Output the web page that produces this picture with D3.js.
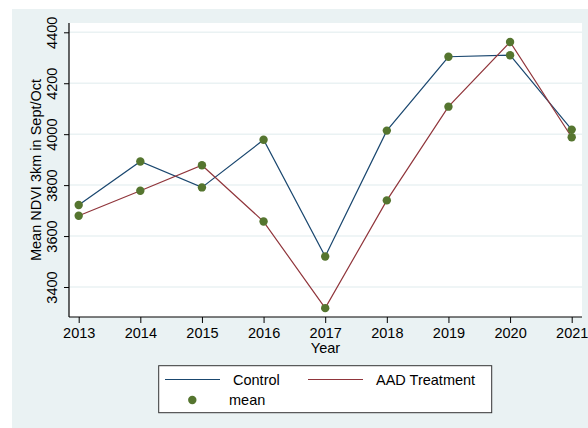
<!DOCTYPE html>
<html>
<head>
<meta charset="utf-8">
<script src="https://cdn.jsdelivr.net/npm/d3@7"></script>
<style>
html,body{margin:0;padding:0;background:#fff;}
svg{display:block;font-family:"Liberation Sans",Arial,Helvetica,sans-serif;}
</style>
</head>
<body>
<svg id="chart" width="588" height="428"></svg>
<script>
const years = [2013, 2014, 2015, 2016, 2017, 2018, 2019, 2020, 2021];
const controlValues = [3722, 3893, 3791, 3978, 3520, 4014, 4304, 4310, 4018];
const treatmentValues = [3680, 3778, 3878, 3657, 3317, 3740, 4108, 4362, 3988];
const yTicks = [3400, 3600, 3800, 4000, 4200, 4400];
const seriesNames = ["Control", "AAD Treatment", "mean"];

const svg = d3.select("#chart");
const W = 588, H = 428;
const FS = 14.5;
const plot = {left: 69, right: 582, top: 23, bottom: 317};

const x = d3.scaleLinear().domain([2013, 2021]).range([78.7, 571.7]);
const y = d3.scaleLinear().domain([3400, 4400]).range([287, 32.3]);

// outer graph region
svg.append("rect").attr("x", 12).attr("y", 9).attr("width", W - 12).attr("height", H - 9).attr("fill", "#eaf2f3");
// plot region
svg.append("rect").attr("x", plot.left).attr("y", plot.top)
  .attr("width", plot.right - plot.left).attr("height", plot.bottom - plot.top).attr("fill", "#fff");

// gridlines
svg.append("g").selectAll("line").data(yTicks).join("line")
  .attr("x1", plot.left).attr("x2", plot.right)
  .attr("y1", d => y(d)).attr("y2", d => y(d))
  .attr("stroke", "#eaf2f3").attr("stroke-width", 1.5);

// y axis
const yAxis = svg.append("g").attr("transform", `translate(${plot.left},0)`)
  .call(d3.axisLeft(y).tickValues(yTicks).tickFormat(d3.format("d")).tickSize(5).tickSizeOuter(0));
yAxis.select(".domain").remove();
svg.append("line").attr("x1", plot.left).attr("x2", plot.left).attr("y1", plot.top).attr("y2", plot.bottom)
  .attr("stroke", "#000").attr("stroke-width", 1.2);
yAxis.selectAll(".tick line").attr("stroke", "#000").attr("stroke-width", 1);
yAxis.selectAll(".tick text")
  .attr("font-size", FS).attr("fill", "#000")
  .attr("x", 0).attr("dy", 0)
  .attr("text-anchor", "middle")
  .attr("transform", "translate(-12,0) rotate(-90)")
  .attr("y", 0);

// x axis
const xAxis = svg.append("g").attr("transform", `translate(0,${plot.bottom})`)
  .call(d3.axisBottom(x).tickValues(years).tickFormat(d3.format("d")).tickSize(6).tickSizeOuter(0));
xAxis.select(".domain").remove();
svg.append("line").attr("x1", plot.left).attr("x2", plot.right).attr("y1", plot.bottom).attr("y2", plot.bottom)
  .attr("stroke", "#000").attr("stroke-width", 1.2);
xAxis.selectAll(".tick line").attr("stroke", "#000").attr("stroke-width", 1);
xAxis.selectAll(".tick text").attr("font-size", FS).attr("fill", "#000").attr("y", 21).attr("dy", 0);

// axis titles
svg.append("text").attr("x", (plot.left + plot.right) / 2).attr("y", 353)
  .attr("text-anchor", "middle").attr("font-size", FS).text("Year");
svg.append("text").attr("transform", `translate(41,170) rotate(-90)`)
  .attr("text-anchor", "middle").attr("font-size", FS).text("Mean NDVI 3km in Sept/Oct");

// lines
const line = d3.line().x((d, i) => x(years[i])).y(d => y(d));
svg.append("path").datum(controlValues).attr("d", line)
  .attr("fill", "none").attr("stroke", "#1a476f").attr("stroke-width", 1.2);
svg.append("path").datum(treatmentValues).attr("d", line)
  .attr("fill", "none").attr("stroke", "#90353b").attr("stroke-width", 1.2);

// points
const pts = [];
controlValues.forEach((v, i) => pts.push([years[i], v]));
treatmentValues.forEach((v, i) => pts.push([years[i], v]));
svg.append("g").selectAll("circle").data(pts).join("circle")
  .attr("cx", d => x(d[0])).attr("cy", d => y(d[1])).attr("r", 4.2)
  .attr("fill", "#55752f");

// legend
const lg = svg.append("g");
lg.append("rect").attr("x", 158.7).attr("y", 365.7).attr("width", 333).attr("height", 47)
  .attr("fill", "#fff").attr("stroke", "#333").attr("stroke-width", 1);
lg.append("line").attr("x1", 165).attr("x2", 220).attr("y1", 379.5).attr("y2", 379.5)
  .attr("stroke", "#1a476f").attr("stroke-width", 1.2);
lg.append("text").attr("x", 233).attr("y", 385).attr("font-size", FS).text(seriesNames[0]);
lg.append("line").attr("x1", 308).attr("x2", 363).attr("y1", 379.5).attr("y2", 379.5)
  .attr("stroke", "#90353b").attr("stroke-width", 1.2);
lg.append("text").attr("x", 376).attr("y", 385).attr("font-size", FS).text(seriesNames[1]);
lg.append("circle").attr("cx", 192.3).attr("cy", 400).attr("r", 4.2).attr("fill", "#55752f");
lg.append("text").attr("x", 229).attr("y", 405).attr("font-size", FS).text(seriesNames[2]);
</script>
</body>
</html>
